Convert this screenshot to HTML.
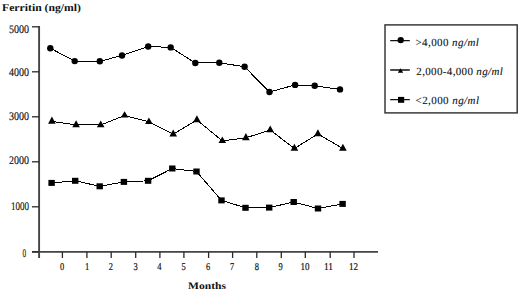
<!DOCTYPE html><html><head><meta charset="utf-8"><style>html,body{margin:0;padding:0;background:#fff;width:520px;height:292px;overflow:hidden}svg{display:block}text{font-family:"Liberation Sans",sans-serif;text-rendering:geometricPrecision}.s{font-family:"Liberation Serif",serif}</style></head><body>
<svg width="520" height="292" viewBox="0 0 520 292">
<text class="s" x="2" y="10.7" font-size="10.5" font-weight="bold" fill="#111" textLength="79" lengthAdjust="spacingAndGlyphs">Ferritin (ng/ml)</text>
<path d="M39.1 26V258M32 251.9H378" stroke="#444" stroke-width="1.9" fill="none"/>
<g stroke="#2a2a2a" stroke-width="1.3" fill="none">
<path d="M32 26.8H39"/>
<path d="M32 71.8H39"/>
<path d="M32 116.8H39"/>
<path d="M32 161.8H39"/>
<path d="M32 206.8H39"/>
<path d="M32 251.8H39"/>
<path d="M62.4 252V258"/>
<path d="M86.9 252V258"/>
<path d="M111.2 252V258"/>
<path d="M135.7 252V258"/>
<path d="M159.9 252V258"/>
<path d="M183.9 252V258"/>
<path d="M208.6 252V258"/>
<path d="M232.6 252V258"/>
<path d="M256.8 252V258"/>
<path d="M281.3 252V258"/>
<path d="M305.3 252V258"/>
<path d="M330.2 252V258"/>
<path d="M354.0 252V258"/>
</g>
<text class="s" x="29" y="32.9" font-size="11.5" text-anchor="end" fill="#111" stroke="#111" stroke-width="0.15" textLength="20" lengthAdjust="spacingAndGlyphs">5000</text>
<text class="s" x="29" y="76.0" font-size="11.5" text-anchor="end" fill="#111" stroke="#111" stroke-width="0.15" textLength="20" lengthAdjust="spacingAndGlyphs">4000</text>
<text class="s" x="29" y="119.9" font-size="11.5" text-anchor="end" fill="#111" stroke="#111" stroke-width="0.15" textLength="20" lengthAdjust="spacingAndGlyphs">3000</text>
<text class="s" x="29" y="163.5" font-size="11.5" text-anchor="end" fill="#111" stroke="#111" stroke-width="0.15" textLength="20" lengthAdjust="spacingAndGlyphs">2000</text>
<text class="s" x="29" y="210.1" font-size="11.5" text-anchor="end" fill="#111" stroke="#111" stroke-width="0.15" textLength="18" lengthAdjust="spacingAndGlyphs">1000</text>
<text class="s" x="26.2" y="256.7" font-size="11.5" text-anchor="end" fill="#111" stroke="#111" stroke-width="0.15" textLength="3.6" lengthAdjust="spacingAndGlyphs">0</text>
<text class="s" x="62.0" y="270.2" font-size="10.5" text-anchor="middle" fill="#111" stroke="#111" stroke-width="0.2" textLength="4.2" lengthAdjust="spacingAndGlyphs">0</text>
<text class="s" x="87.0" y="270.2" font-size="10.5" text-anchor="middle" fill="#111" stroke="#111" stroke-width="0.2" textLength="4.2" lengthAdjust="spacingAndGlyphs">1</text>
<text class="s" x="110.9" y="270.2" font-size="10.5" text-anchor="middle" fill="#111" stroke="#111" stroke-width="0.2" textLength="4.2" lengthAdjust="spacingAndGlyphs">2</text>
<text class="s" x="135.6" y="270.2" font-size="10.5" text-anchor="middle" fill="#111" stroke="#111" stroke-width="0.2" textLength="4.2" lengthAdjust="spacingAndGlyphs">3</text>
<text class="s" x="159.3" y="270.2" font-size="10.5" text-anchor="middle" fill="#111" stroke="#111" stroke-width="0.2" textLength="4.2" lengthAdjust="spacingAndGlyphs">4</text>
<text class="s" x="183.5" y="270.2" font-size="10.5" text-anchor="middle" fill="#111" stroke="#111" stroke-width="0.2" textLength="4.2" lengthAdjust="spacingAndGlyphs">5</text>
<text class="s" x="208.0" y="270.2" font-size="10.5" text-anchor="middle" fill="#111" stroke="#111" stroke-width="0.2" textLength="4.2" lengthAdjust="spacingAndGlyphs">6</text>
<text class="s" x="232.0" y="270.2" font-size="10.5" text-anchor="middle" fill="#111" stroke="#111" stroke-width="0.2" textLength="4.2" lengthAdjust="spacingAndGlyphs">7</text>
<text class="s" x="256.8" y="270.2" font-size="10.5" text-anchor="middle" fill="#111" stroke="#111" stroke-width="0.2" textLength="4.2" lengthAdjust="spacingAndGlyphs">8</text>
<text class="s" x="280.6" y="270.2" font-size="10.5" text-anchor="middle" fill="#111" stroke="#111" stroke-width="0.2" textLength="4.2" lengthAdjust="spacingAndGlyphs">9</text>
<text class="s" x="305.0" y="270.2" font-size="10.5" text-anchor="middle" fill="#111" stroke="#111" stroke-width="0.2" textLength="9" lengthAdjust="spacingAndGlyphs">10</text>
<text class="s" x="328.4" y="270.2" font-size="10.5" text-anchor="middle" fill="#111" stroke="#111" stroke-width="0.2" textLength="9" lengthAdjust="spacingAndGlyphs">11</text>
<text class="s" x="353.4" y="270.2" font-size="10.5" text-anchor="middle" fill="#111" stroke="#111" stroke-width="0.2" textLength="9" lengthAdjust="spacingAndGlyphs">12</text>
<text class="s" x="188" y="289.4" font-size="10" font-weight="bold" fill="#111" textLength="38" lengthAdjust="spacingAndGlyphs">Months</text>
<polyline points="50.3,48.2 74.7,61.1 99.8,61.3 122.0,55.5 148.2,46.5 170.7,47.4 195.3,63.0 219.3,62.7 244.6,66.8 269.5,92.0 295.1,84.9 314.7,85.8 340.0,89.4" fill="none" stroke="#000" stroke-width="1" shape-rendering="crispEdges"/>
<polyline points="51.9,121.4 76.1,124.9 100.7,125.0 124.6,115.5 148.9,121.8 173.2,134.3 196.9,119.9 222.3,140.9 245.9,137.8 270.2,130.0 294.4,148.5 317.9,133.9 342.9,148.5" fill="none" stroke="#000" stroke-width="1" shape-rendering="crispEdges"/>
<polyline points="51.6,182.9 75.2,180.8 99.7,186.3 123.9,181.9 148.1,180.8 172.3,168.5 196.5,171.5 221.5,200.4 245.5,207.8 269.2,207.6 293.7,202.0 318.0,208.5 342.6,203.9" fill="none" stroke="#000" stroke-width="1" shape-rendering="crispEdges"/>
<circle cx="50.3" cy="48.2" r="3.2" fill="#000"/>
<circle cx="74.7" cy="61.1" r="3.2" fill="#000"/>
<circle cx="99.8" cy="61.3" r="3.2" fill="#000"/>
<circle cx="122" cy="55.5" r="3.2" fill="#000"/>
<circle cx="148.2" cy="46.5" r="3.2" fill="#000"/>
<circle cx="170.7" cy="47.4" r="3.2" fill="#000"/>
<circle cx="195.3" cy="63" r="3.2" fill="#000"/>
<circle cx="219.3" cy="62.7" r="3.2" fill="#000"/>
<circle cx="244.6" cy="66.8" r="3.2" fill="#000"/>
<circle cx="269.5" cy="92" r="3.2" fill="#000"/>
<circle cx="295.1" cy="84.9" r="3.2" fill="#000"/>
<circle cx="314.7" cy="85.8" r="3.2" fill="#000"/>
<circle cx="340" cy="89.4" r="3.2" fill="#000"/>
<path d="M48.1 123.8L51.9 116.6L55.7 123.8Z" fill="#000"/>
<path d="M72.3 127.2L76.1 120.3L79.9 127.2Z" fill="#000"/>
<path d="M96.9 127.2L100.7 120.6L104.5 127.2Z" fill="#000"/>
<path d="M120.8 117.6L124.6 111.2L128.4 117.6Z" fill="#000"/>
<path d="M145.1 124L148.9 117.5L152.7 124Z" fill="#000"/>
<path d="M169.4 136.6L173.2 129.6L177.0 136.6Z" fill="#000"/>
<path d="M193.1 122.2L196.9 115.3L200.7 122.2Z" fill="#000"/>
<path d="M218.5 143.1L222.3 136.6L226.1 143.1Z" fill="#000"/>
<path d="M242.1 140.2L245.9 133L249.7 140.2Z" fill="#000"/>
<path d="M266.4 132.3L270.2 125.4L274.0 132.3Z" fill="#000"/>
<path d="M290.6 150.8L294.4 143.8L298.2 150.8Z" fill="#000"/>
<path d="M314.1 136.2L317.9 129.3L321.7 136.2Z" fill="#000"/>
<path d="M339.1 150.8L342.9 143.8L346.7 150.8Z" fill="#000"/>
<rect x="48.4" y="179.9" width="6.4" height="6" fill="#000"/>
<rect x="72.0" y="177.8" width="6.4" height="6" fill="#000"/>
<rect x="96.5" y="183.3" width="6.4" height="6" fill="#000"/>
<rect x="120.7" y="178.9" width="6.4" height="6" fill="#000"/>
<rect x="144.9" y="177.8" width="6.4" height="6" fill="#000"/>
<rect x="169.1" y="165.5" width="6.4" height="6" fill="#000"/>
<rect x="193.3" y="168.5" width="6.4" height="6" fill="#000"/>
<rect x="218.3" y="197.4" width="6.4" height="6" fill="#000"/>
<rect x="242.3" y="204.8" width="6.4" height="6" fill="#000"/>
<rect x="266.0" y="204.6" width="6.4" height="6" fill="#000"/>
<rect x="290.5" y="199.0" width="6.4" height="6" fill="#000"/>
<rect x="314.8" y="205.5" width="6.4" height="6" fill="#000"/>
<rect x="339.4" y="200.9" width="6.4" height="6" fill="#000"/>
<rect x="385" y="24.9" width="132.2" height="88" fill="none" stroke="#333" stroke-width="1.45"/>
<path d="M390.2 40.6H409.8M390.2 70H409.8M390.2 99.6H409.8" stroke="#111" stroke-width="1.4"/>
<circle cx="400.7" cy="40.1" r="3.2" fill="#000"/>
<path d="M397.8 72.8L400.5 68.3L403.2 72.8Z" fill="#000"/>
<rect x="398" y="96.9" width="6.2" height="5.9" fill="#000"/>
<text class="s" x="415.4" y="45.5" font-size="11" fill="#111" stroke="#111" stroke-width="0.1" textLength="63.5" lengthAdjust="spacing">&gt;4,000 <tspan font-style="italic">ng/ml</tspan></text>
<text class="s" x="416.3" y="75.4" font-size="11" fill="#111" stroke="#111" stroke-width="0.1" textLength="86.5" lengthAdjust="spacing">2,000-4,000 <tspan font-style="italic">ng/ml</tspan></text>
<text class="s" x="415.5" y="104" font-size="11" fill="#111" stroke="#111" stroke-width="0.1" textLength="63.5" lengthAdjust="spacing">&lt;2,000 <tspan font-style="italic">ng/ml</tspan></text>
</svg></body></html>
